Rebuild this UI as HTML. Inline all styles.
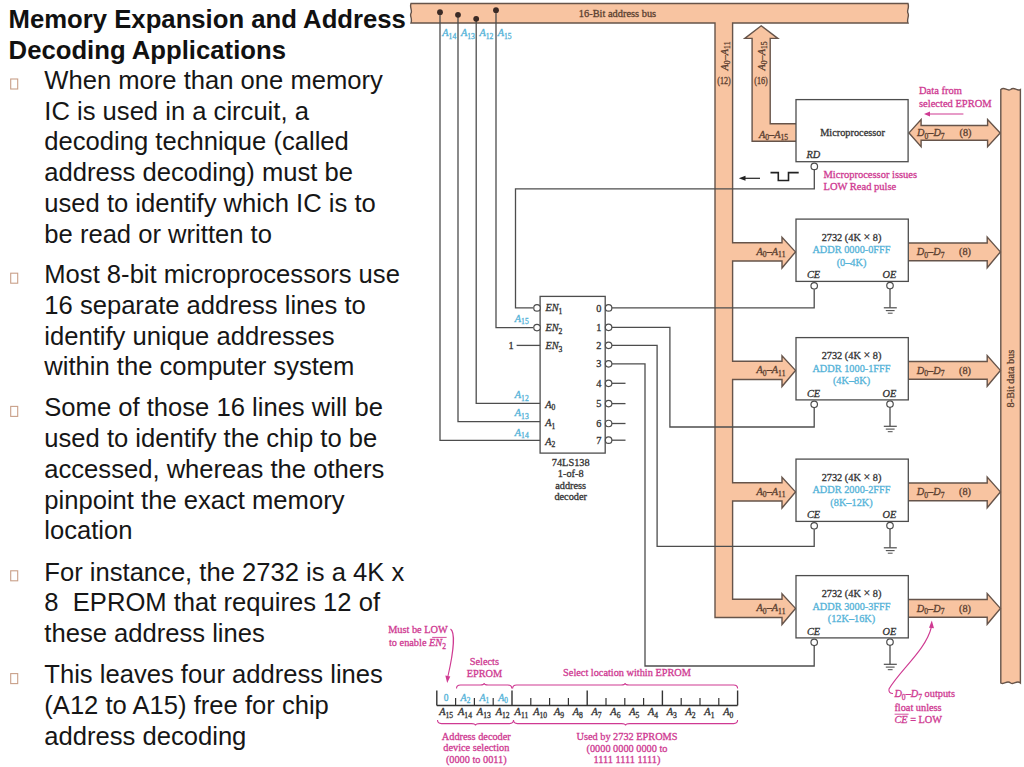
<!DOCTYPE html>
<html><head><meta charset="utf-8"><title>Memory Expansion and Address Decoding Applications</title>
<style>
html,body{margin:0;padding:0;background:#fff;}
body{width:1024px;height:767px;overflow:hidden;position:relative;}
svg{position:absolute;left:0;top:0;}
</style></head><body>
<svg width="1024" height="767" viewBox="0 0 1024 767">
<rect x="0" y="0" width="1024" height="767" fill="#fff"/>
<text x="8.6" y="28.2" font-size="25.7" font-weight="bold" fill="#111" font-family="Liberation Sans, sans-serif">Memory Expansion and Address</text>
<text x="8.6" y="58.9" font-size="25.7" font-weight="bold" fill="#111" font-family="Liberation Sans, sans-serif">Decoding Applications</text>
<rect x="10.7" y="79.0" width="7" height="10" fill="none" stroke="#c9a089" stroke-width="1.1"/>
<text x="44.3" y="88.8" font-size="25.6" fill="#161616" font-family="Liberation Sans, sans-serif" xml:space="preserve">When more than one memory</text>
<text x="44.3" y="119.6" font-size="25.6" fill="#161616" font-family="Liberation Sans, sans-serif" xml:space="preserve">IC is used in a circuit, a</text>
<text x="44.3" y="150.4" font-size="25.6" fill="#161616" font-family="Liberation Sans, sans-serif" xml:space="preserve">decoding technique (called</text>
<text x="44.3" y="181.2" font-size="25.6" fill="#161616" font-family="Liberation Sans, sans-serif" xml:space="preserve">address decoding) must be</text>
<text x="44.3" y="212.0" font-size="25.6" fill="#161616" font-family="Liberation Sans, sans-serif" xml:space="preserve">used to identify which IC is to</text>
<text x="44.3" y="242.8" font-size="25.6" fill="#161616" font-family="Liberation Sans, sans-serif" xml:space="preserve">be read or written to</text>
<rect x="10.7" y="273.2" width="7" height="10" fill="none" stroke="#c9a089" stroke-width="1.1"/>
<text x="44.3" y="283.0" font-size="25.6" fill="#161616" font-family="Liberation Sans, sans-serif" xml:space="preserve">Most 8-bit microprocessors use</text>
<text x="44.3" y="313.8" font-size="25.6" fill="#161616" font-family="Liberation Sans, sans-serif" xml:space="preserve">16 separate address lines to</text>
<text x="44.3" y="344.6" font-size="25.6" fill="#161616" font-family="Liberation Sans, sans-serif" xml:space="preserve">identify unique addresses</text>
<text x="44.3" y="375.4" font-size="25.6" fill="#161616" font-family="Liberation Sans, sans-serif" xml:space="preserve">within the computer system</text>
<rect x="10.7" y="406.4" width="7" height="10" fill="none" stroke="#c9a089" stroke-width="1.1"/>
<text x="44.3" y="416.2" font-size="25.6" fill="#161616" font-family="Liberation Sans, sans-serif" xml:space="preserve">Some of those 16 lines will be</text>
<text x="44.3" y="447.0" font-size="25.6" fill="#161616" font-family="Liberation Sans, sans-serif" xml:space="preserve">used to identify the chip to be</text>
<text x="44.3" y="477.8" font-size="25.6" fill="#161616" font-family="Liberation Sans, sans-serif" xml:space="preserve">accessed, whereas the others</text>
<text x="44.3" y="508.6" font-size="25.6" fill="#161616" font-family="Liberation Sans, sans-serif" xml:space="preserve">pinpoint the exact memory</text>
<text x="44.3" y="539.4" font-size="25.6" fill="#161616" font-family="Liberation Sans, sans-serif" xml:space="preserve">location</text>
<rect x="10.7" y="570.8000000000001" width="7" height="10" fill="none" stroke="#c9a089" stroke-width="1.1"/>
<text x="44.3" y="580.6" font-size="25.6" fill="#161616" font-family="Liberation Sans, sans-serif" xml:space="preserve">For instance, the 2732 is a 4K x</text>
<text x="44.3" y="611.4" font-size="25.6" fill="#161616" font-family="Liberation Sans, sans-serif" xml:space="preserve">8  EPROM that requires 12 of</text>
<text x="44.3" y="642.2" font-size="25.6" fill="#161616" font-family="Liberation Sans, sans-serif" xml:space="preserve">these address lines</text>
<rect x="10.7" y="673.6" width="7" height="10" fill="none" stroke="#c9a089" stroke-width="1.1"/>
<text x="44.3" y="683.4" font-size="25.6" fill="#161616" font-family="Liberation Sans, sans-serif" xml:space="preserve">This leaves four address lines</text>
<text x="44.3" y="714.2" font-size="25.6" fill="#161616" font-family="Liberation Sans, sans-serif" xml:space="preserve">(A12 to A15) free for chip</text>
<text x="44.3" y="745.0" font-size="25.6" fill="#161616" font-family="Liberation Sans, sans-serif" xml:space="preserve">address decoding</text>
<path d="M411,3.5 L908,3.5 C909.6,8.375 906.4,10.325 908,13.25 C909.6,16.175 906.4,19.1 908,23 L732.6,23 L732.6,242.8 L782,242.8 L782,237.2 L795.5,251.9 L782,268.0 L782,261.0 L732.6,261.0 L732.6,361.3 L782,361.3 L782,355.7 L795.5,370.4 L782,386.5 L782,379.5 L732.6,379.5 L732.6,482.8 L782,482.8 L782,477.2 L795.5,491.9 L782,508.0 L782,501.0 L732.6,501.0 L732.6,599.3 L782,599.3 L782,593.7 L795.5,608.4 L782,624.5 L782,617.5 L715.0,617.5 L715.0,23 L411,23 C412.6,18.125 409.4,16.175 411,13.25 C412.6,10.325 409.4,7.399999999999999 411,3.5 Z" fill="#f8c4a1" stroke="#66544a" stroke-width="1.4" stroke-linejoin="miter"/>
<path d="M796,123.8 L770.2,123.8 L770.2,38.4 L777.8,38.4 L761.2,25.8 L744.8,38.4 L752.1,38.4 L752.1,141.3 L796,141.3" fill="#f8c4a1" stroke="#66544a" stroke-width="1.4"/>
<path d="M1000.8,89.5 C1004.7199999999999,86.2 1006.68,91.7 1010.5999999999999,89.5 C1014.52,86.2 1016.48,91.7 1020.4,89.5 L1020.4,683 C1016.48,679.7 1014.52,685.2 1010.5999999999999,683 C1006.68,679.7 1004.7199999999999,685.2 1000.8,683 Z" fill="#f8c4a1" stroke="#66544a" stroke-width="1.4"/>
<path d="M909,132.9 L921.1,119.5 L921.1,125.5 L987.6,125.5 L987.6,119.5 L1000.2,132.9 L987.6,146.6 L987.6,140.2 L921.1,140.2 L921.1,146.6 Z" fill="#f8c4a1" stroke="#66544a" stroke-width="1.4"/>
<path d="M908.3,243.0 L987.2,243.0 L987.2,237.0 L1000.4,251.9 L987.2,267.8 L987.2,260.8 L908.3,260.8" fill="#f8c4a1" stroke="#66544a" stroke-width="1.4"/>
<path d="M908.3,361.5 L987.2,361.5 L987.2,355.5 L1000.4,370.4 L987.2,386.3 L987.2,379.3 L908.3,379.3" fill="#f8c4a1" stroke="#66544a" stroke-width="1.4"/>
<path d="M908.3,483.0 L987.2,483.0 L987.2,477.0 L1000.4,491.9 L987.2,507.8 L987.2,500.8 L908.3,500.8" fill="#f8c4a1" stroke="#66544a" stroke-width="1.4"/>
<path d="M908.3,599.5 L987.2,599.5 L987.2,593.5 L1000.4,608.4 L987.2,624.3 L987.2,617.3 L908.3,617.3" fill="#f8c4a1" stroke="#66544a" stroke-width="1.4"/>
<rect x="796" y="99.6" width="112.1" height="62.1" fill="#fff" stroke="#4d4d4d" stroke-width="1.3"/>
<rect x="796" y="219.1" width="112.3" height="62.3" fill="#fff" stroke="#4d4d4d" stroke-width="1.3"/>
<rect x="796" y="337.6" width="112.3" height="62.3" fill="#fff" stroke="#4d4d4d" stroke-width="1.3"/>
<rect x="796" y="459.1" width="112.3" height="62.3" fill="#fff" stroke="#4d4d4d" stroke-width="1.3"/>
<rect x="796" y="575.6" width="112.3" height="62.3" fill="#fff" stroke="#4d4d4d" stroke-width="1.3"/>
<rect x="540.1" y="296.4" width="65.1" height="156.7" fill="#fff" stroke="#4d4d4d" stroke-width="1.3"/>
<path d="M440,12.2 L440,440.3 L540.1,440.3" fill="none" stroke="#4d4d4d" stroke-width="1.3"/>
<path d="M458,14.8 L458,421.6 L540.1,421.6" fill="none" stroke="#4d4d4d" stroke-width="1.3"/>
<path d="M476.2,18.8 L476.2,403.3 L540.1,403.3" fill="none" stroke="#4d4d4d" stroke-width="1.3"/>
<path d="M496,10.2 L496,327.6 L533,327.6" fill="none" stroke="#4d4d4d" stroke-width="1.3"/>
<circle cx="440" cy="12.2" r="2.9" fill="#3a2a25"/>
<circle cx="458" cy="14.8" r="2.9" fill="#3a2a25"/>
<circle cx="476.2" cy="18.8" r="2.9" fill="#3a2a25"/>
<circle cx="496" cy="10.2" r="2.9" fill="#3a2a25"/>
<path d="M814.3,170 L814.3,188.8 L515.5,188.8 L515.5,307.9 L533,307.9" fill="none" stroke="#4d4d4d" stroke-width="1.3"/>
<circle cx="814.3" cy="166.4" r="3.25" fill="#fff" stroke="#4d4d4d" stroke-width="1.2"/>
<circle cx="537.0" cy="307.9" r="3.25" fill="#fff" stroke="#4d4d4d" stroke-width="1.2"/>
<circle cx="537.0" cy="327.6" r="3.25" fill="#fff" stroke="#4d4d4d" stroke-width="1.2"/>
<path d="M516.6,345.4 L540.1,345.4" fill="none" stroke="#4d4d4d" stroke-width="1.3"/>
<path d="M612,307.9 L814.2,307.9 L814.2,289.5" fill="none" stroke="#4d4d4d" stroke-width="1.3"/>
<path d="M612,327.3 L669.9,327.3 L669.9,427.0 L814.2,427.0 L814.2,408" fill="none" stroke="#4d4d4d" stroke-width="1.3"/>
<path d="M612,345.3 L657.1,345.3 L657.1,546.4 L814.2,546.4 L814.2,529.5" fill="none" stroke="#4d4d4d" stroke-width="1.3"/>
<path d="M612,363.8 L645.0,363.8 L645.0,666.0 L814.2,666.0 L814.2,646" fill="none" stroke="#4d4d4d" stroke-width="1.3"/>
<path d="M612,383.3 L625.5,383.3" fill="none" stroke="#4d4d4d" stroke-width="1.3"/>
<path d="M612,403.6 L625.5,403.6" fill="none" stroke="#4d4d4d" stroke-width="1.3"/>
<path d="M612,423.5 L625.5,423.5" fill="none" stroke="#4d4d4d" stroke-width="1.3"/>
<path d="M612,440.2 L625.5,440.2" fill="none" stroke="#4d4d4d" stroke-width="1.3"/>
<circle cx="608.6" cy="307.9" r="3.25" fill="#fff" stroke="#4d4d4d" stroke-width="1.2"/>
<circle cx="608.6" cy="327.3" r="3.25" fill="#fff" stroke="#4d4d4d" stroke-width="1.2"/>
<circle cx="608.6" cy="345.3" r="3.25" fill="#fff" stroke="#4d4d4d" stroke-width="1.2"/>
<circle cx="608.6" cy="363.8" r="3.25" fill="#fff" stroke="#4d4d4d" stroke-width="1.2"/>
<circle cx="608.6" cy="383.3" r="3.25" fill="#fff" stroke="#4d4d4d" stroke-width="1.2"/>
<circle cx="608.6" cy="403.6" r="3.25" fill="#fff" stroke="#4d4d4d" stroke-width="1.2"/>
<circle cx="608.6" cy="423.5" r="3.25" fill="#fff" stroke="#4d4d4d" stroke-width="1.2"/>
<circle cx="608.6" cy="440.2" r="3.25" fill="#fff" stroke="#4d4d4d" stroke-width="1.2"/>
<circle cx="814.2" cy="285.8" r="3.25" fill="#fff" stroke="#4d4d4d" stroke-width="1.2"/>
<circle cx="890.0" cy="285.6" r="3.25" fill="#fff" stroke="#4d4d4d" stroke-width="1.2"/>
<path d="M890,289 L890,307.8" fill="none" stroke="#4d4d4d" stroke-width="1.3"/>
<path d="M883.8,307.8 L896.8,307.8" fill="none" stroke="#4d4d4d" stroke-width="1.2"/>
<path d="M885.8,310.6 L894.6,310.6" fill="none" stroke="#4d4d4d" stroke-width="1.1"/>
<path d="M887.8,313.2 L892.6,313.2" fill="none" stroke="#4d4d4d" stroke-width="1.0"/>
<circle cx="814.2" cy="404.3" r="3.25" fill="#fff" stroke="#4d4d4d" stroke-width="1.2"/>
<circle cx="890.0" cy="404.1" r="3.25" fill="#fff" stroke="#4d4d4d" stroke-width="1.2"/>
<path d="M890,407.5 L890,426.3" fill="none" stroke="#4d4d4d" stroke-width="1.3"/>
<path d="M883.8,426.3 L896.8,426.3" fill="none" stroke="#4d4d4d" stroke-width="1.2"/>
<path d="M885.8,429.1 L894.6,429.1" fill="none" stroke="#4d4d4d" stroke-width="1.1"/>
<path d="M887.8,431.7 L892.6,431.7" fill="none" stroke="#4d4d4d" stroke-width="1.0"/>
<circle cx="814.2" cy="525.8" r="3.25" fill="#fff" stroke="#4d4d4d" stroke-width="1.2"/>
<circle cx="890.0" cy="525.6" r="3.25" fill="#fff" stroke="#4d4d4d" stroke-width="1.2"/>
<path d="M890,529 L890,547.8" fill="none" stroke="#4d4d4d" stroke-width="1.3"/>
<path d="M883.8,547.8 L896.8,547.8" fill="none" stroke="#4d4d4d" stroke-width="1.2"/>
<path d="M885.8,550.6 L894.6,550.6" fill="none" stroke="#4d4d4d" stroke-width="1.1"/>
<path d="M887.8,553.2 L892.6,553.2" fill="none" stroke="#4d4d4d" stroke-width="1.0"/>
<circle cx="814.2" cy="642.3" r="3.25" fill="#fff" stroke="#4d4d4d" stroke-width="1.2"/>
<circle cx="890.0" cy="642.1" r="3.25" fill="#fff" stroke="#4d4d4d" stroke-width="1.2"/>
<path d="M890,645.5 L890,664.3" fill="none" stroke="#4d4d4d" stroke-width="1.3"/>
<path d="M883.8,664.3 L896.8,664.3" fill="none" stroke="#4d4d4d" stroke-width="1.2"/>
<path d="M885.8,667.1 L894.6,667.1" fill="none" stroke="#4d4d4d" stroke-width="1.1"/>
<path d="M887.8,669.7 L892.6,669.7" fill="none" stroke="#4d4d4d" stroke-width="1.0"/>
<text x="617.5" y="16.8" font-size="10.4" fill="#5b3f30" stroke="#5b3f30" stroke-width="0.3" text-anchor="middle" font-family="Liberation Serif, serif" >16-Bit address bus</text>
<text x="442.3" y="36" font-size="10.3" fill="#55b3d8" stroke="#55b3d8" stroke-width="0.3" text-anchor="start" font-style="italic" font-family="Liberation Serif, serif" >A<tspan font-size="7.62" font-style="normal" dy="2.68">14</tspan><tspan dy="-2.68">​</tspan></text>
<text x="461" y="36" font-size="10.3" fill="#55b3d8" stroke="#55b3d8" stroke-width="0.3" text-anchor="start" font-style="italic" font-family="Liberation Serif, serif" >A<tspan font-size="7.62" font-style="normal" dy="2.68">13</tspan><tspan dy="-2.68">​</tspan></text>
<text x="479.4" y="36" font-size="10.3" fill="#55b3d8" stroke="#55b3d8" stroke-width="0.3" text-anchor="start" font-style="italic" font-family="Liberation Serif, serif" >A<tspan font-size="7.62" font-style="normal" dy="2.68">12</tspan><tspan dy="-2.68">​</tspan></text>
<text x="497.7" y="36" font-size="10.3" fill="#55b3d8" stroke="#55b3d8" stroke-width="0.3" text-anchor="start" font-style="italic" font-family="Liberation Serif, serif" >A<tspan font-size="7.62" font-style="normal" dy="2.68">15</tspan><tspan dy="-2.68">​</tspan></text>
<g transform="translate(727.5,56) rotate(-90)"><text x="0" y="0" font-size="10.3" fill="#5b3f30" stroke="#5b3f30" stroke-width="0.3" text-anchor="middle" font-style="italic" font-family="Liberation Serif, serif">A<tspan font-size="7.62" font-style="normal" dy="2.68">0</tspan><tspan dy="-2.68">​</tspan>–A<tspan font-size="7.62" font-style="normal" dy="2.68">11</tspan><tspan dy="-2.68">​</tspan></text></g>
<g transform="translate(764.5,56) rotate(-90)"><text x="0" y="0" font-size="10.3" fill="#5b3f30" stroke="#5b3f30" stroke-width="0.3" text-anchor="middle" font-style="italic" font-family="Liberation Serif, serif">A<tspan font-size="7.62" font-style="normal" dy="2.68">0</tspan><tspan dy="-2.68">​</tspan>–A<tspan font-size="7.62" font-style="normal" dy="2.68">15</tspan><tspan dy="-2.68">​</tspan></text></g>
<text x="724" y="84" font-size="9.5" fill="#5b3f30" stroke="#5b3f30" stroke-width="0.3" text-anchor="middle" font-family="Liberation Serif, serif" textLength="13.5" lengthAdjust="spacingAndGlyphs">(12)</text>
<text x="761" y="84" font-size="9.5" fill="#5b3f30" stroke="#5b3f30" stroke-width="0.3" text-anchor="middle" font-family="Liberation Serif, serif" textLength="13.5" lengthAdjust="spacingAndGlyphs">(16)</text>
<text x="773.5" y="137.5" font-size="10.3" fill="#5b3f30" stroke="#5b3f30" stroke-width="0.3" text-anchor="middle" font-style="italic" font-family="Liberation Serif, serif" >A<tspan font-size="7.62" font-style="normal" dy="2.68">0</tspan><tspan dy="-2.68">​</tspan>–A<tspan font-size="7.62" font-style="normal" dy="2.68">15</tspan><tspan dy="-2.68">​</tspan></text>
<text x="852.5" y="136.3" font-size="10.3" fill="#333333" stroke="#333333" stroke-width="0.3" text-anchor="middle" font-family="Liberation Serif, serif" >Microprocessor</text>
<text x="806.5" y="158" font-size="10.3" fill="#333333" stroke="#333333" stroke-width="0.3" text-anchor="start" font-style="italic" font-family="Liberation Serif, serif" >RD</text>
<text x="823.5" y="177.8" font-size="10.5" fill="#cf3a92" stroke="#cf3a92" stroke-width="0.3" text-anchor="start" font-family="Liberation Serif, serif" >Microprocessor issues</text>
<text x="823.5" y="190.3" font-size="10.5" fill="#cf3a92" stroke="#cf3a92" stroke-width="0.3" text-anchor="start" font-family="Liberation Serif, serif" >LOW Read pulse</text>
<text x="919" y="94" font-size="10.5" fill="#cf3a92" stroke="#cf3a92" stroke-width="0.3" text-anchor="start" font-family="Liberation Serif, serif" >Data from</text>
<text x="919" y="106.6" font-size="10.5" fill="#cf3a92" stroke="#cf3a92" stroke-width="0.3" text-anchor="start" font-family="Liberation Serif, serif" >selected EPROM</text>
<path d="M927,114 L963.4,114" fill="none" stroke="#cf3a92" stroke-width="1.1"/>
<path d="M924,114 L930,111.6 L930,116.4 Z" fill="#cf3a92"/>
<text x="917" y="136" font-size="10.3" fill="#5b3f30" stroke="#5b3f30" stroke-width="0.3" text-anchor="start" font-style="italic" font-family="Liberation Serif, serif" >D<tspan font-size="7.62" font-style="normal" dy="2.68">0</tspan><tspan dy="-2.68">​</tspan>–D<tspan font-size="7.62" font-style="normal" dy="2.68">7</tspan><tspan dy="-2.68">​</tspan></text>
<text x="959.5" y="136" font-size="10.3" fill="#5b3f30" stroke="#5b3f30" stroke-width="0.3" text-anchor="start" font-family="Liberation Serif, serif" >(8)</text>
<path d="M770.5,172.6 L778.3,172.6 L778.3,180.5 L788.5,180.5 L788.5,172.6 L798.7,172.6" fill="none" stroke="#222" stroke-width="1.6"/>
<path d="M742,178.3 L760,178.3" fill="none" stroke="#222" stroke-width="1.2"/>
<path d="M738.8,178.3 L745.5,175.8 L745.5,180.8 Z" fill="#222"/>
<text x="851.5" y="240.7" font-size="10.3" fill="#333333" stroke="#333333" stroke-width="0.3" text-anchor="middle" font-family="Liberation Serif, serif" >2732 (4K <tspan font-size="12">×</tspan> 8)</text>
<text x="851.5" y="253.3" font-size="10.3" fill="#55b3d8" stroke="#55b3d8" stroke-width="0.3" text-anchor="middle" font-family="Liberation Serif, serif" >ADDR 0000-0FFF</text>
<text x="851.5" y="265.6" font-size="10.3" fill="#55b3d8" stroke="#55b3d8" stroke-width="0.3" text-anchor="middle" font-family="Liberation Serif, serif" >(0–4K)</text>
<text x="807" y="278.4" font-size="10.3" fill="#333333" stroke="#333333" stroke-width="0.3" text-anchor="start" font-style="italic" font-family="Liberation Serif, serif" >CE</text>
<text x="882.5" y="278.4" font-size="10.3" fill="#333333" stroke="#333333" stroke-width="0.3" text-anchor="start" font-style="italic" font-family="Liberation Serif, serif" >OE</text>
<text x="771" y="254.8" font-size="10.3" fill="#5b3f30" stroke="#5b3f30" stroke-width="0.3" text-anchor="middle" font-style="italic" font-family="Liberation Serif, serif" >A<tspan font-size="7.62" font-style="normal" dy="2.68">0</tspan><tspan dy="-2.68">​</tspan>–A<tspan font-size="7.62" font-style="normal" dy="2.68">11</tspan><tspan dy="-2.68">​</tspan></text>
<text x="916.8" y="255" font-size="10.3" fill="#5b3f30" stroke="#5b3f30" stroke-width="0.3" text-anchor="start" font-style="italic" font-family="Liberation Serif, serif" >D<tspan font-size="7.62" font-style="normal" dy="2.68">0</tspan><tspan dy="-2.68">​</tspan>–D<tspan font-size="7.62" font-style="normal" dy="2.68">7</tspan><tspan dy="-2.68">​</tspan></text>
<text x="959" y="255" font-size="10.3" fill="#5b3f30" stroke="#5b3f30" stroke-width="0.3" text-anchor="start" font-family="Liberation Serif, serif" >(8)</text>
<text x="851.5" y="359.2" font-size="10.3" fill="#333333" stroke="#333333" stroke-width="0.3" text-anchor="middle" font-family="Liberation Serif, serif" >2732 (4K <tspan font-size="12">×</tspan> 8)</text>
<text x="851.5" y="371.8" font-size="10.3" fill="#55b3d8" stroke="#55b3d8" stroke-width="0.3" text-anchor="middle" font-family="Liberation Serif, serif" >ADDR 1000-1FFF</text>
<text x="851.5" y="384.1" font-size="10.3" fill="#55b3d8" stroke="#55b3d8" stroke-width="0.3" text-anchor="middle" font-family="Liberation Serif, serif" >(4K–8K)</text>
<text x="807" y="396.9" font-size="10.3" fill="#333333" stroke="#333333" stroke-width="0.3" text-anchor="start" font-style="italic" font-family="Liberation Serif, serif" >CE</text>
<text x="882.5" y="396.9" font-size="10.3" fill="#333333" stroke="#333333" stroke-width="0.3" text-anchor="start" font-style="italic" font-family="Liberation Serif, serif" >OE</text>
<text x="771" y="373.3" font-size="10.3" fill="#5b3f30" stroke="#5b3f30" stroke-width="0.3" text-anchor="middle" font-style="italic" font-family="Liberation Serif, serif" >A<tspan font-size="7.62" font-style="normal" dy="2.68">0</tspan><tspan dy="-2.68">​</tspan>–A<tspan font-size="7.62" font-style="normal" dy="2.68">11</tspan><tspan dy="-2.68">​</tspan></text>
<text x="916.8" y="373.5" font-size="10.3" fill="#5b3f30" stroke="#5b3f30" stroke-width="0.3" text-anchor="start" font-style="italic" font-family="Liberation Serif, serif" >D<tspan font-size="7.62" font-style="normal" dy="2.68">0</tspan><tspan dy="-2.68">​</tspan>–D<tspan font-size="7.62" font-style="normal" dy="2.68">7</tspan><tspan dy="-2.68">​</tspan></text>
<text x="959" y="373.5" font-size="10.3" fill="#5b3f30" stroke="#5b3f30" stroke-width="0.3" text-anchor="start" font-family="Liberation Serif, serif" >(8)</text>
<text x="851.5" y="480.7" font-size="10.3" fill="#333333" stroke="#333333" stroke-width="0.3" text-anchor="middle" font-family="Liberation Serif, serif" >2732 (4K <tspan font-size="12">×</tspan> 8)</text>
<text x="851.5" y="493.3" font-size="10.3" fill="#55b3d8" stroke="#55b3d8" stroke-width="0.3" text-anchor="middle" font-family="Liberation Serif, serif" >ADDR 2000-2FFF</text>
<text x="851.5" y="505.6" font-size="10.3" fill="#55b3d8" stroke="#55b3d8" stroke-width="0.3" text-anchor="middle" font-family="Liberation Serif, serif" >(8K–12K)</text>
<text x="807" y="518.4" font-size="10.3" fill="#333333" stroke="#333333" stroke-width="0.3" text-anchor="start" font-style="italic" font-family="Liberation Serif, serif" >CE</text>
<text x="882.5" y="518.4" font-size="10.3" fill="#333333" stroke="#333333" stroke-width="0.3" text-anchor="start" font-style="italic" font-family="Liberation Serif, serif" >OE</text>
<text x="771" y="494.8" font-size="10.3" fill="#5b3f30" stroke="#5b3f30" stroke-width="0.3" text-anchor="middle" font-style="italic" font-family="Liberation Serif, serif" >A<tspan font-size="7.62" font-style="normal" dy="2.68">0</tspan><tspan dy="-2.68">​</tspan>–A<tspan font-size="7.62" font-style="normal" dy="2.68">11</tspan><tspan dy="-2.68">​</tspan></text>
<text x="916.8" y="495" font-size="10.3" fill="#5b3f30" stroke="#5b3f30" stroke-width="0.3" text-anchor="start" font-style="italic" font-family="Liberation Serif, serif" >D<tspan font-size="7.62" font-style="normal" dy="2.68">0</tspan><tspan dy="-2.68">​</tspan>–D<tspan font-size="7.62" font-style="normal" dy="2.68">7</tspan><tspan dy="-2.68">​</tspan></text>
<text x="959" y="495" font-size="10.3" fill="#5b3f30" stroke="#5b3f30" stroke-width="0.3" text-anchor="start" font-family="Liberation Serif, serif" >(8)</text>
<text x="851.5" y="597.2" font-size="10.3" fill="#333333" stroke="#333333" stroke-width="0.3" text-anchor="middle" font-family="Liberation Serif, serif" >2732 (4K <tspan font-size="12">×</tspan> 8)</text>
<text x="851.5" y="609.8" font-size="10.3" fill="#55b3d8" stroke="#55b3d8" stroke-width="0.3" text-anchor="middle" font-family="Liberation Serif, serif" >ADDR 3000-3FFF</text>
<text x="851.5" y="622.1" font-size="10.3" fill="#55b3d8" stroke="#55b3d8" stroke-width="0.3" text-anchor="middle" font-family="Liberation Serif, serif" >(12K–16K)</text>
<text x="807" y="634.9" font-size="10.3" fill="#333333" stroke="#333333" stroke-width="0.3" text-anchor="start" font-style="italic" font-family="Liberation Serif, serif" >CE</text>
<text x="882.5" y="634.9" font-size="10.3" fill="#333333" stroke="#333333" stroke-width="0.3" text-anchor="start" font-style="italic" font-family="Liberation Serif, serif" >OE</text>
<text x="771" y="611.3" font-size="10.3" fill="#5b3f30" stroke="#5b3f30" stroke-width="0.3" text-anchor="middle" font-style="italic" font-family="Liberation Serif, serif" >A<tspan font-size="7.62" font-style="normal" dy="2.68">0</tspan><tspan dy="-2.68">​</tspan>–A<tspan font-size="7.62" font-style="normal" dy="2.68">11</tspan><tspan dy="-2.68">​</tspan></text>
<text x="916.8" y="611.5" font-size="10.3" fill="#5b3f30" stroke="#5b3f30" stroke-width="0.3" text-anchor="start" font-style="italic" font-family="Liberation Serif, serif" >D<tspan font-size="7.62" font-style="normal" dy="2.68">0</tspan><tspan dy="-2.68">​</tspan>–D<tspan font-size="7.62" font-style="normal" dy="2.68">7</tspan><tspan dy="-2.68">​</tspan></text>
<text x="959" y="611.5" font-size="10.3" fill="#5b3f30" stroke="#5b3f30" stroke-width="0.3" text-anchor="start" font-family="Liberation Serif, serif" >(8)</text>
<g transform="translate(1014,378.5) rotate(-90)"><text x="0" y="0" font-size="10.3" fill="#5b3f30" stroke="#5b3f30" stroke-width="0.3" text-anchor="middle" font-family="Liberation Serif, serif">8-Bit data bus</text></g>
<text x="545.4" y="311.3" font-size="10.3" fill="#333333" stroke="#333333" stroke-width="0.3" text-anchor="start" font-style="italic" font-family="Liberation Serif, serif" >EN<tspan font-size="7.62" font-style="normal" dy="2.68">1</tspan><tspan dy="-2.68">​</tspan></text>
<text x="545.4" y="331" font-size="10.3" fill="#333333" stroke="#333333" stroke-width="0.3" text-anchor="start" font-style="italic" font-family="Liberation Serif, serif" >EN<tspan font-size="7.62" font-style="normal" dy="2.68">2</tspan><tspan dy="-2.68">​</tspan></text>
<text x="545.4" y="349" font-size="10.3" fill="#333333" stroke="#333333" stroke-width="0.3" text-anchor="start" font-style="italic" font-family="Liberation Serif, serif" >EN<tspan font-size="7.62" font-style="normal" dy="2.68">3</tspan><tspan dy="-2.68">​</tspan></text>
<text x="545.3" y="407.7" font-size="10.3" fill="#333333" stroke="#333333" stroke-width="0.3" text-anchor="start" font-style="italic" font-family="Liberation Serif, serif" >A<tspan font-size="7.62" font-style="normal" dy="2.68">0</tspan><tspan dy="-2.68">​</tspan></text>
<text x="545.3" y="426.2" font-size="10.3" fill="#333333" stroke="#333333" stroke-width="0.3" text-anchor="start" font-style="italic" font-family="Liberation Serif, serif" >A<tspan font-size="7.62" font-style="normal" dy="2.68">1</tspan><tspan dy="-2.68">​</tspan></text>
<text x="545.3" y="444.7" font-size="10.3" fill="#333333" stroke="#333333" stroke-width="0.3" text-anchor="start" font-style="italic" font-family="Liberation Serif, serif" >A<tspan font-size="7.62" font-style="normal" dy="2.68">2</tspan><tspan dy="-2.68">​</tspan></text>
<text x="601.5" y="311.5" font-size="10.3" fill="#333333" stroke="#333333" stroke-width="0.3" text-anchor="end" font-family="Liberation Serif, serif" >0</text>
<text x="601.5" y="330.90000000000003" font-size="10.3" fill="#333333" stroke="#333333" stroke-width="0.3" text-anchor="end" font-family="Liberation Serif, serif" >1</text>
<text x="601.5" y="348.90000000000003" font-size="10.3" fill="#333333" stroke="#333333" stroke-width="0.3" text-anchor="end" font-family="Liberation Serif, serif" >2</text>
<text x="601.5" y="367.40000000000003" font-size="10.3" fill="#333333" stroke="#333333" stroke-width="0.3" text-anchor="end" font-family="Liberation Serif, serif" >3</text>
<text x="601.5" y="386.90000000000003" font-size="10.3" fill="#333333" stroke="#333333" stroke-width="0.3" text-anchor="end" font-family="Liberation Serif, serif" >4</text>
<text x="601.5" y="407.20000000000005" font-size="10.3" fill="#333333" stroke="#333333" stroke-width="0.3" text-anchor="end" font-family="Liberation Serif, serif" >5</text>
<text x="601.5" y="427.1" font-size="10.3" fill="#333333" stroke="#333333" stroke-width="0.3" text-anchor="end" font-family="Liberation Serif, serif" >6</text>
<text x="601.5" y="443.8" font-size="10.3" fill="#333333" stroke="#333333" stroke-width="0.3" text-anchor="end" font-family="Liberation Serif, serif" >7</text>
<text x="508.5" y="349" font-size="10.3" fill="#333333" stroke="#333333" stroke-width="0.3" text-anchor="start" font-family="Liberation Serif, serif" >1</text>
<text x="514.8" y="321.6" font-size="10.3" fill="#55b3d8" stroke="#55b3d8" stroke-width="0.3" text-anchor="start" font-style="italic" font-family="Liberation Serif, serif" >A<tspan font-size="7.62" font-style="normal" dy="2.68">15</tspan><tspan dy="-2.68">​</tspan></text>
<text x="514.8" y="398" font-size="10.3" fill="#55b3d8" stroke="#55b3d8" stroke-width="0.3" text-anchor="start" font-style="italic" font-family="Liberation Serif, serif" >A<tspan font-size="7.62" font-style="normal" dy="2.68">12</tspan><tspan dy="-2.68">​</tspan></text>
<text x="514.8" y="416" font-size="10.3" fill="#55b3d8" stroke="#55b3d8" stroke-width="0.3" text-anchor="start" font-style="italic" font-family="Liberation Serif, serif" >A<tspan font-size="7.62" font-style="normal" dy="2.68">13</tspan><tspan dy="-2.68">​</tspan></text>
<text x="514.8" y="435.5" font-size="10.3" fill="#55b3d8" stroke="#55b3d8" stroke-width="0.3" text-anchor="start" font-style="italic" font-family="Liberation Serif, serif" >A<tspan font-size="7.62" font-style="normal" dy="2.68">14</tspan><tspan dy="-2.68">​</tspan></text>
<text x="570.7" y="465.6" font-size="10.3" fill="#333333" stroke="#333333" stroke-width="0.3" text-anchor="middle" font-family="Liberation Serif, serif" >74LS138</text>
<text x="570.7" y="477.2" font-size="10.3" fill="#333333" stroke="#333333" stroke-width="0.3" text-anchor="middle" font-family="Liberation Serif, serif" >1-of-8</text>
<text x="570.7" y="488.8" font-size="10.3" fill="#333333" stroke="#333333" stroke-width="0.3" text-anchor="middle" font-family="Liberation Serif, serif" >address</text>
<text x="570.7" y="500.2" font-size="10.3" fill="#333333" stroke="#333333" stroke-width="0.3" text-anchor="middle" font-family="Liberation Serif, serif" >decoder</text>
<path d="M436.8,705.4 L737.6,705.4" fill="none" stroke="#333" stroke-width="1.5"/>
<path d="M436.8,690.5 L436.8,705.4" fill="none" stroke="#333" stroke-width="1.4"/>
<path d="M455.6,698 L455.6,705.4" fill="none" stroke="#333" stroke-width="1.2"/>
<path d="M474.40000000000003,698 L474.40000000000003,705.4" fill="none" stroke="#333" stroke-width="1.2"/>
<path d="M493.20000000000005,698 L493.20000000000005,705.4" fill="none" stroke="#333" stroke-width="1.2"/>
<path d="M512.0,690.5 L512.0,705.4" fill="none" stroke="#333" stroke-width="1.4"/>
<path d="M530.8,698 L530.8,705.4" fill="none" stroke="#333" stroke-width="1.2"/>
<path d="M549.6,698 L549.6,705.4" fill="none" stroke="#333" stroke-width="1.2"/>
<path d="M568.4,698 L568.4,705.4" fill="none" stroke="#333" stroke-width="1.2"/>
<path d="M587.2,690.5 L587.2,705.4" fill="none" stroke="#333" stroke-width="1.4"/>
<path d="M606.0,698 L606.0,705.4" fill="none" stroke="#333" stroke-width="1.2"/>
<path d="M624.8,698 L624.8,705.4" fill="none" stroke="#333" stroke-width="1.2"/>
<path d="M643.6,698 L643.6,705.4" fill="none" stroke="#333" stroke-width="1.2"/>
<path d="M662.4000000000001,690.5 L662.4000000000001,705.4" fill="none" stroke="#333" stroke-width="1.4"/>
<path d="M681.2,698 L681.2,705.4" fill="none" stroke="#333" stroke-width="1.2"/>
<path d="M700.0,698 L700.0,705.4" fill="none" stroke="#333" stroke-width="1.2"/>
<path d="M718.8,698 L718.8,705.4" fill="none" stroke="#333" stroke-width="1.2"/>
<path d="M737.6,690.5 L737.6,705.4" fill="none" stroke="#333" stroke-width="1.4"/>
<text x="446.2" y="715.2" font-size="10.3" fill="#333333" stroke="#333333" stroke-width="0.3" text-anchor="middle" font-style="italic" font-family="Liberation Serif, serif" >A<tspan font-size="7.62" font-style="normal" dy="2.68">15</tspan><tspan dy="-2.68">​</tspan></text>
<text x="465.0" y="715.2" font-size="10.3" fill="#333333" stroke="#333333" stroke-width="0.3" text-anchor="middle" font-style="italic" font-family="Liberation Serif, serif" >A<tspan font-size="7.62" font-style="normal" dy="2.68">14</tspan><tspan dy="-2.68">​</tspan></text>
<text x="483.8" y="715.2" font-size="10.3" fill="#333333" stroke="#333333" stroke-width="0.3" text-anchor="middle" font-style="italic" font-family="Liberation Serif, serif" >A<tspan font-size="7.62" font-style="normal" dy="2.68">13</tspan><tspan dy="-2.68">​</tspan></text>
<text x="502.6" y="715.2" font-size="10.3" fill="#333333" stroke="#333333" stroke-width="0.3" text-anchor="middle" font-style="italic" font-family="Liberation Serif, serif" >A<tspan font-size="7.62" font-style="normal" dy="2.68">12</tspan><tspan dy="-2.68">​</tspan></text>
<text x="521.4" y="715.2" font-size="10.3" fill="#333333" stroke="#333333" stroke-width="0.3" text-anchor="middle" font-style="italic" font-family="Liberation Serif, serif" >A<tspan font-size="7.62" font-style="normal" dy="2.68">11</tspan><tspan dy="-2.68">​</tspan></text>
<text x="540.1999999999999" y="715.2" font-size="10.3" fill="#333333" stroke="#333333" stroke-width="0.3" text-anchor="middle" font-style="italic" font-family="Liberation Serif, serif" >A<tspan font-size="7.62" font-style="normal" dy="2.68">10</tspan><tspan dy="-2.68">​</tspan></text>
<text x="559.0" y="715.2" font-size="10.3" fill="#333333" stroke="#333333" stroke-width="0.3" text-anchor="middle" font-style="italic" font-family="Liberation Serif, serif" >A<tspan font-size="7.62" font-style="normal" dy="2.68">9</tspan><tspan dy="-2.68">​</tspan></text>
<text x="577.8" y="715.2" font-size="10.3" fill="#333333" stroke="#333333" stroke-width="0.3" text-anchor="middle" font-style="italic" font-family="Liberation Serif, serif" >A<tspan font-size="7.62" font-style="normal" dy="2.68">8</tspan><tspan dy="-2.68">​</tspan></text>
<text x="596.6" y="715.2" font-size="10.3" fill="#333333" stroke="#333333" stroke-width="0.3" text-anchor="middle" font-style="italic" font-family="Liberation Serif, serif" >A<tspan font-size="7.62" font-style="normal" dy="2.68">7</tspan><tspan dy="-2.68">​</tspan></text>
<text x="615.4" y="715.2" font-size="10.3" fill="#333333" stroke="#333333" stroke-width="0.3" text-anchor="middle" font-style="italic" font-family="Liberation Serif, serif" >A<tspan font-size="7.62" font-style="normal" dy="2.68">6</tspan><tspan dy="-2.68">​</tspan></text>
<text x="634.1999999999999" y="715.2" font-size="10.3" fill="#333333" stroke="#333333" stroke-width="0.3" text-anchor="middle" font-style="italic" font-family="Liberation Serif, serif" >A<tspan font-size="7.62" font-style="normal" dy="2.68">5</tspan><tspan dy="-2.68">​</tspan></text>
<text x="653.0" y="715.2" font-size="10.3" fill="#333333" stroke="#333333" stroke-width="0.3" text-anchor="middle" font-style="italic" font-family="Liberation Serif, serif" >A<tspan font-size="7.62" font-style="normal" dy="2.68">4</tspan><tspan dy="-2.68">​</tspan></text>
<text x="671.8000000000001" y="715.2" font-size="10.3" fill="#333333" stroke="#333333" stroke-width="0.3" text-anchor="middle" font-style="italic" font-family="Liberation Serif, serif" >A<tspan font-size="7.62" font-style="normal" dy="2.68">3</tspan><tspan dy="-2.68">​</tspan></text>
<text x="690.6" y="715.2" font-size="10.3" fill="#333333" stroke="#333333" stroke-width="0.3" text-anchor="middle" font-style="italic" font-family="Liberation Serif, serif" >A<tspan font-size="7.62" font-style="normal" dy="2.68">2</tspan><tspan dy="-2.68">​</tspan></text>
<text x="709.4" y="715.2" font-size="10.3" fill="#333333" stroke="#333333" stroke-width="0.3" text-anchor="middle" font-style="italic" font-family="Liberation Serif, serif" >A<tspan font-size="7.62" font-style="normal" dy="2.68">1</tspan><tspan dy="-2.68">​</tspan></text>
<text x="728.1999999999999" y="715.2" font-size="10.3" fill="#333333" stroke="#333333" stroke-width="0.3" text-anchor="middle" font-style="italic" font-family="Liberation Serif, serif" >A<tspan font-size="7.62" font-style="normal" dy="2.68">0</tspan><tspan dy="-2.68">​</tspan></text>
<text x="446.2" y="700.5" font-size="9.5" fill="#55b3d8" stroke="#55b3d8" stroke-width="0.3" text-anchor="middle" font-family="Liberation Serif, serif" >0</text>
<text x="465.5" y="700.5" font-size="10" fill="#55b3d8" stroke="#55b3d8" stroke-width="0.3" text-anchor="middle" font-style="italic" font-family="Liberation Serif, serif" >A<tspan font-size="7.40" font-style="normal" dy="2.60">2</tspan><tspan dy="-2.60">​</tspan></text>
<text x="484.3" y="700.5" font-size="10" fill="#55b3d8" stroke="#55b3d8" stroke-width="0.3" text-anchor="middle" font-style="italic" font-family="Liberation Serif, serif" >A<tspan font-size="7.40" font-style="normal" dy="2.60">1</tspan><tspan dy="-2.60">​</tspan></text>
<text x="503.1" y="700.5" font-size="10" fill="#55b3d8" stroke="#55b3d8" stroke-width="0.3" text-anchor="middle" font-style="italic" font-family="Liberation Serif, serif" >A<tspan font-size="7.40" font-style="normal" dy="2.60">0</tspan><tspan dy="-2.60">​</tspan></text>
<path d="M456.5,688.5 Q456.5,685 460.5,685 L480.15,685 Q484.15,685 484.15,683 Q484.15,685 488.15,685 L507.8,685 Q511.8,685 511.8,688.5" fill="none" stroke="#cf3a92" stroke-width="1.1"/>
<path d="M512.6,688.5 Q512.6,685 516.6,685 L621.1,685 Q625.1,685 625.1,683 Q625.1,685 629.1,685 L733.6,685 Q737.6,685 737.6,688.5" fill="none" stroke="#cf3a92" stroke-width="1.1"/>
<path d="M437.5,720.1 Q437.5,723.6 441.5,723.6 L471.5,723.6 Q475.5,723.6 475.5,725.6 Q475.5,723.6 479.5,723.6 L509.5,723.6 Q513.5,723.6 513.5,720.1" fill="none" stroke="#cf3a92" stroke-width="1.1"/>
<path d="M513.5,720.1 Q513.5,723.6 517.5,723.6 L621.55,723.6 Q625.55,723.6 625.55,725.6 Q625.55,723.6 629.55,723.6 L733.6,723.6 Q737.6,723.6 737.6,720.1" fill="none" stroke="#cf3a92" stroke-width="1.1"/>
<text x="484.4" y="665" font-size="10.3" fill="#cf3a92" stroke="#cf3a92" stroke-width="0.3" text-anchor="middle" font-family="Liberation Serif, serif" >Selects</text>
<text x="484.4" y="676.6" font-size="10.3" fill="#cf3a92" stroke="#cf3a92" stroke-width="0.3" text-anchor="middle" font-family="Liberation Serif, serif" >EPROM</text>
<text x="627" y="675.5" font-size="10.3" fill="#cf3a92" stroke="#cf3a92" stroke-width="0.3" text-anchor="middle" font-family="Liberation Serif, serif" >Select location within EPROM</text>
<text x="476.3" y="740" font-size="10.3" fill="#cf3a92" stroke="#cf3a92" stroke-width="0.3" text-anchor="middle" font-family="Liberation Serif, serif" >Address decoder</text>
<text x="476.3" y="751.4" font-size="10.3" fill="#cf3a92" stroke="#cf3a92" stroke-width="0.3" text-anchor="middle" font-family="Liberation Serif, serif" >device selection</text>
<text x="476.3" y="762.8" font-size="10.3" fill="#cf3a92" stroke="#cf3a92" stroke-width="0.3" text-anchor="middle" font-family="Liberation Serif, serif" >(0000 to 0011)</text>
<text x="627" y="740.3" font-size="10.3" fill="#cf3a92" stroke="#cf3a92" stroke-width="0.3" text-anchor="middle" font-family="Liberation Serif, serif" >Used by 2732 EPROMS</text>
<text x="627" y="751.7" font-size="10.3" fill="#cf3a92" stroke="#cf3a92" stroke-width="0.3" text-anchor="middle" font-family="Liberation Serif, serif" >(0000 0000 0000 to</text>
<text x="627" y="763.2" font-size="10.3" fill="#cf3a92" stroke="#cf3a92" stroke-width="0.3" text-anchor="middle" font-family="Liberation Serif, serif" >1111 1111 1111)</text>
<text x="388.2" y="633" font-size="10.3" fill="#cf3a92" stroke="#cf3a92" stroke-width="0.3" text-anchor="start" font-family="Liberation Serif, serif" >Must be LOW</text>
<text x="389" y="646" font-size="10.3" fill="#cf3a92" stroke="#cf3a92" stroke-width="0.3" font-family="Liberation Serif, serif">to enable <tspan font-style="italic">EN</tspan><tspan font-size="7.6" dy="2.6">2</tspan></text>
<path d="M432.2,637.4 L446.6,637.4" fill="none" stroke="#cf3a92" stroke-width="0.9"/>
<path d="M450.5,629 C455,632 454,650 448,676" fill="none" stroke="#cf3a92" stroke-width="1.1"/>
<path d="M447.2,683 L445.3,675.5 L450.3,676.6 Z" fill="#cf3a92"/>
<path d="M931.4,627 C926,650 900,670 889,689 C888.5,692 890,693.5 893,693.5" fill="none" stroke="#cf3a92" stroke-width="1.1"/>
<path d="M931.8,620.5 L929,627.8 L934,628.3 Z" fill="#cf3a92"/>
<text x="894.4" y="697.4" font-size="10.3" fill="#cf3a92" stroke="#cf3a92" stroke-width="0.3" text-anchor="start" font-family="Liberation Serif, serif" ><tspan font-style="italic">D</tspan><tspan font-size="7.62" font-style="normal" dy="2.68">0</tspan><tspan dy="-2.68">​</tspan>–<tspan font-style="italic">D</tspan><tspan font-size="7.62" font-style="normal" dy="2.68">7</tspan><tspan dy="-2.68">​</tspan> outputs</text>
<text x="894.4" y="710.7" font-size="10.3" fill="#cf3a92" stroke="#cf3a92" stroke-width="0.3" text-anchor="start" font-family="Liberation Serif, serif" >float unless</text>
<text x="894.4" y="723" font-size="10.3" fill="#cf3a92" stroke="#cf3a92" stroke-width="0.3" font-family="Liberation Serif, serif"><tspan font-style="italic">CE</tspan> = LOW</text>
<path d="M894.6,714.2 L908.6,714.2" fill="none" stroke="#cf3a92" stroke-width="0.9"/>
</svg>
</body></html>
